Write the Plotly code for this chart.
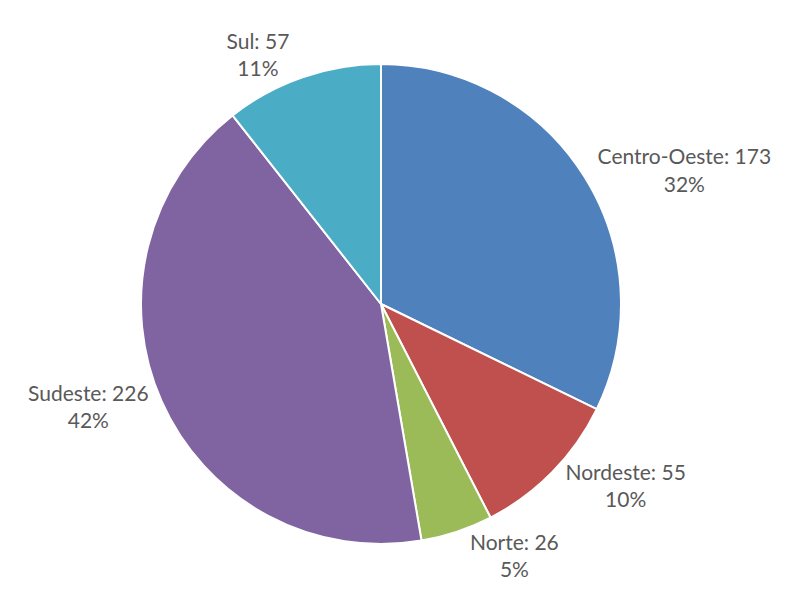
import plotly.graph_objects as go

regioes = ['Centro-Oeste', 'Nordeste', 'Norte', 'Sudeste', 'Sul']
valores = [173, 55, 26, 226, 57]
cores = ['#4F81BD', '#C0504D', '#9BBB59', '#8064A2', '#4BACC6']

fig = go.Figure(go.Pie(
    labels=regioes,
    values=valores,
    sort=False,
    direction='clockwise',
    rotation=0,
    marker=dict(colors=cores, line=dict(color='white', width=2)),
    texttemplate='%{label}: %{value}<br>%{percent:.0%}',
    textposition='outside',
    textfont=dict(family='Lato', size=21, color='#595959'),
    domain=dict(x=[133 / 785, 613 / 785], y=[65 / 601, 545 / 601]),
    showlegend=False,
    hoverinfo='label+value+percent',
))

fig.update_layout(
    width=785,
    height=601,
    margin=dict(l=0, r=0, t=0, b=0),
    paper_bgcolor='white',
    plot_bgcolor='white',
)

fig.write_html("out.html")
